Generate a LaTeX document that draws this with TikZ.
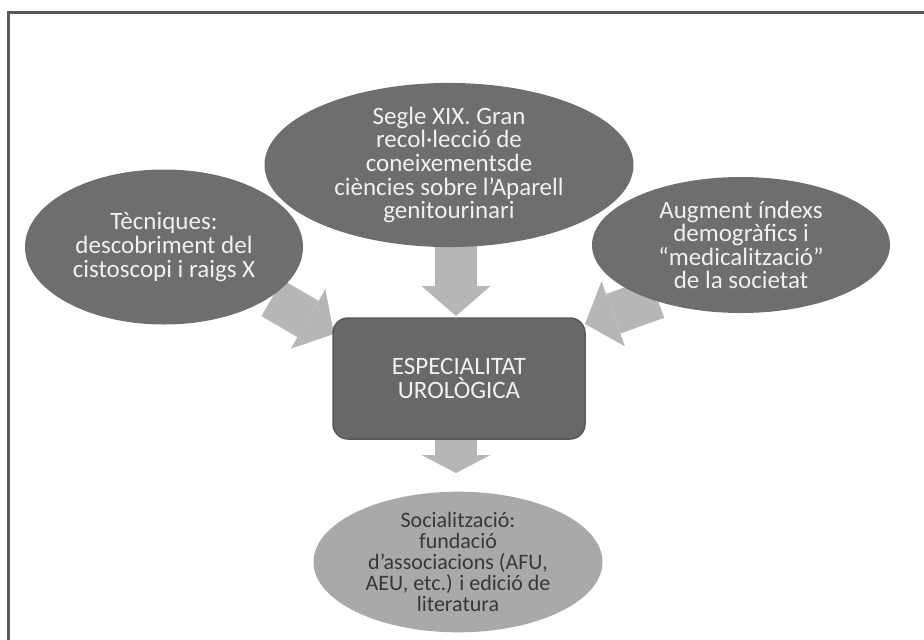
\documentclass[tikz,border=0pt]{standalone}
\usepackage{fontspec}
\setmainfont{Carlito}
\usepackage{tikz}
\usetikzlibrary{arrows.meta,shapes.geometric}
\definecolor{grisfosc}{HTML}{6D6E70}
\definecolor{griscaixa}{HTML}{67686A}
\definecolor{grisclar}{HTML}{A8A9AB}
\definecolor{grisfletxa}{HTML}{B5B6B8}
\definecolor{grisvora}{HTML}{58595B}
\tikzset{
    fosc/.style={
           ellipse,
           fill=grisfosc,
           text=white!94!black,
           inner sep=0pt,
           align=center,
           font=\fontsize{25}{23.6}\selectfont,
           },
    clar/.style={
           ellipse,
           fill=grisclar,
           text=black!78,
           inner sep=0pt,
           align=center,
           font=\fontsize{22}{21}\selectfont,
           },
    caixa/.style={
           rectangle, rounded corners=15pt,
           draw=grisvora, line width=1.5pt,
           fill=griscaixa,
           text=white!94!black,
           align=center,
           font=\fontsize{25}{23.5}\selectfont,
           },
    fletxa/.style={
           draw=grisfletxa, line width=42pt,
           -{Triangle[width=69pt,length=#1,line width=0pt]},
           },
    fletxa/.default=30pt,
}

\begin{document}
\begin{tikzpicture}[x=1pt,y=-1pt]
\useasboundingbox (0,0) rectangle (924,640);
\draw[grisvora, line width=3pt] (8,640) -- (8,12.5) -- (924,12.5);
\coordinate (a) at (456,238);
\coordinate (b) at (456,316);
\coordinate (c) at (272,298);
\coordinate (d) at (334,334);
\coordinate (e) at (657,298);
\coordinate (f) at (585,324);
\coordinate (g) at (456,440);
\coordinate (h) at (456,473);
\draw[fletxa] (a) to (b);
\draw[fletxa] (c) to (d);
\draw[fletxa] (e) to (f);
\draw[fletxa=18pt] (g) to (h);
\node[fosc, minimum width=278pt, minimum height=155pt] (tecniques) at (164,247) {Tècniques:\\descobriment del\\cistoscopi i raigs X};
\node[fosc, minimum width=298pt, minimum height=136pt] (augment) at (741,245) {Augment índexs\\demogràfics i\\“medicalització”\\de la societat};
\node[fosc, minimum width=369pt, minimum height=130pt] (segle) at (449,165) {Segle XIX. Gran\\recol·lecció de\\coneixementsde\\ciències sobre l’Aparell\\genitourinari};
\node[caixa, minimum width=252pt, minimum height=121pt] (especialitat) at (459,378.5) {ESPECIALITAT\\UROLÒGICA};
\node[clar, minimum width=289pt, minimum height=131pt] (socialitzacio) at (458,562) {Socialització:\\fundació\\d’associacions (AFU,\\AEU, etc.) i edició de\\literatura};
\end{tikzpicture}
\end{document}
